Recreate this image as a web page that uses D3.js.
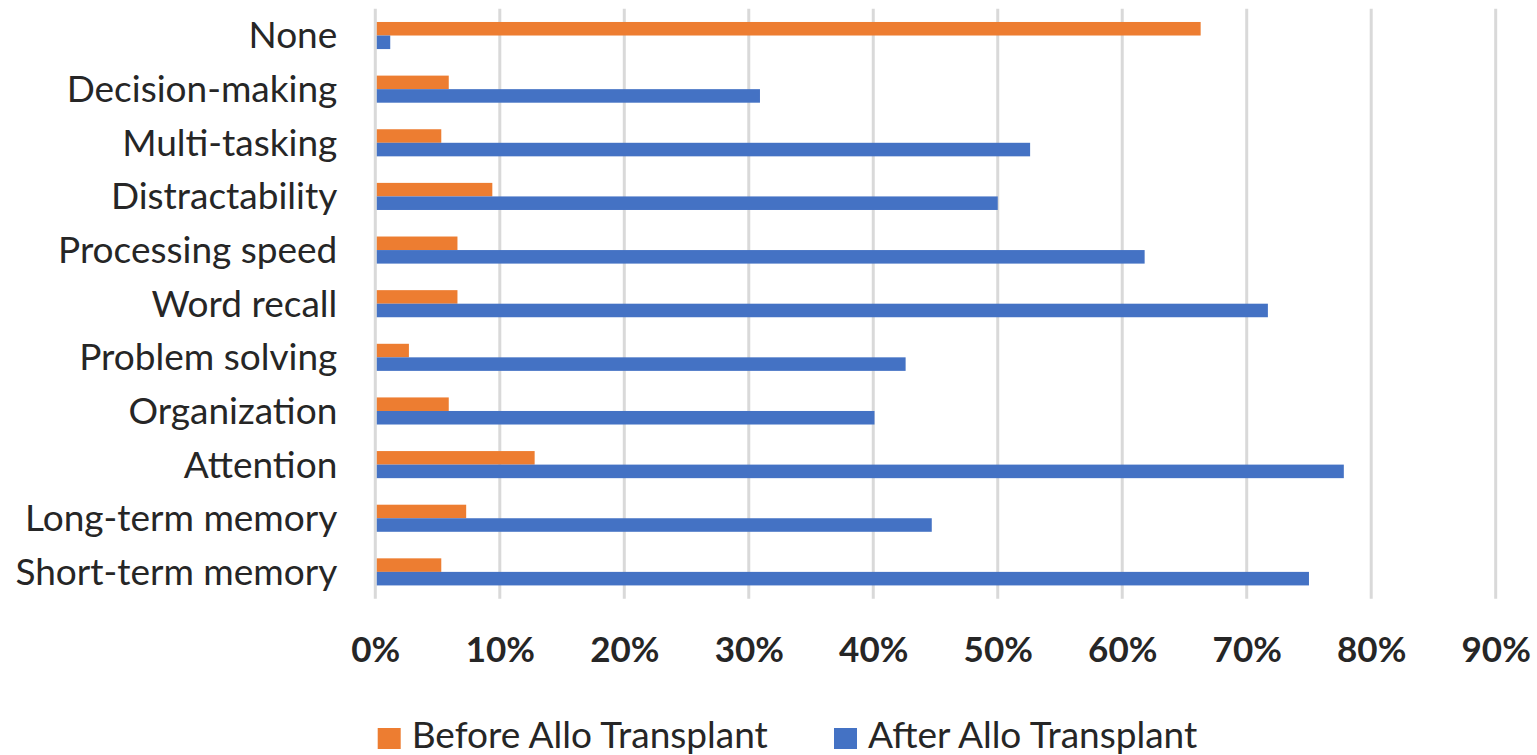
<!DOCTYPE html>
<html>
<head>
<meta charset="utf-8">
<script src="https://cdn.jsdelivr.net/npm/d3@7"></script>
<style>
  html, body { margin: 0; padding: 0; background: #fff; }
  svg { display: block; }
  text { font-family: Lato, "Open Sans", sans-serif; fill: #262626; }
</style>
</head>
<body>
<svg id="chart" width="1537" height="755"></svg>
<script>
const categories = ["None", "Decision-making", "Multi-tasking", "Distractability", "Processing speed",
  "Word recall", "Problem solving", "Organization", "Attention", "Long-term memory", "Short-term memory"];
const seriesNames = ["Before Allo Transplant", "After Allo Transplant"];
const beforeValues = [0.663, 0.059, 0.053, 0.094, 0.066, 0.066, 0.027, 0.059, 0.128, 0.073, 0.053];
const afterValues  = [0.012, 0.309, 0.526, 0.500, 0.618, 0.717, 0.426, 0.401, 0.778, 0.447, 0.750];
const xTicks = [0, 0.1, 0.2, 0.3, 0.4, 0.5, 0.6, 0.7, 0.8, 0.9];
const colors = ["#ED7D31", "#4472C4"];

const svg = d3.select("#chart");
const x = d3.scaleLinear().domain([0, 0.9]).range([375.3, 1495.7]);
const y = d3.scaleBand().domain(categories).range([8.7, 598.7]).paddingInner(0.495).paddingOuter(0.2475);
const ySub = d3.scaleBand().domain(seriesNames).range([0, y.bandwidth()]);

// gridlines
svg.append("g").selectAll("line").data(xTicks).join("line")
  .attr("x1", d => x(d)).attr("x2", d => x(d))
  .attr("y1", 8.7).attr("y2", 598.7)
  .attr("stroke", "#D9D9D9").attr("stroke-width", 3);

// bars
const data = categories.map((c, i) => ({ c, vals: [beforeValues[i], afterValues[i]] }));
const groups = svg.append("g").selectAll("g").data(data).join("g")
  .attr("transform", d => `translate(0,${y(d.c)})`);
groups.selectAll("rect").data(d => d.vals.map((v, j) => ({ v, s: seriesNames[j], j }))).join("rect")
  .attr("x", x(0) + 1.5)
  .attr("y", d => ySub(d.s))
  .attr("width", d => x(d.v) - x(0) - 1.5)
  .attr("height", ySub.bandwidth())
  .attr("fill", d => colors[d.j]);

// x axis labels
const xAxis = d3.axisBottom(x).tickValues(xTicks).tickFormat(d3.format(".0%")).tickSize(0);
const xg = svg.append("g").attr("transform", "translate(0,598.7)").call(xAxis);
xg.select(".domain").remove();
xg.selectAll("text").attr("y", 63).attr("dy", 0)
  .style("font-family", "Lato, 'Open Sans', sans-serif")
  .style("font-size", "35px").style("font-weight", "bold").style("fill", "#262626");

// y axis labels
const yAxis = d3.axisLeft(y).tickSize(0);
const yg = svg.append("g").attr("transform", `translate(${x(0)},0)`).call(yAxis);
yg.select(".domain").remove();
yg.selectAll("text").attr("x", -38).attr("dy", "0.35em")
  .style("font-family", "Lato, 'Open Sans', sans-serif")
  .style("font-size", "37px").style("fill", "#262626");

// legend
const legendX = [377.7, 834];
const leg = svg.append("g").selectAll("g").data(seriesNames).join("g")
  .attr("transform", (d, i) => `translate(${legendX[i]},728)`);
leg.append("rect").attr("width", 23).attr("height", 21).attr("fill", (d, i) => colors[i]);
leg.append("text").attr("x", 34).attr("y", 20)
  .style("font-size", "37px").text(d => d);
</script>
</body>
</html>
